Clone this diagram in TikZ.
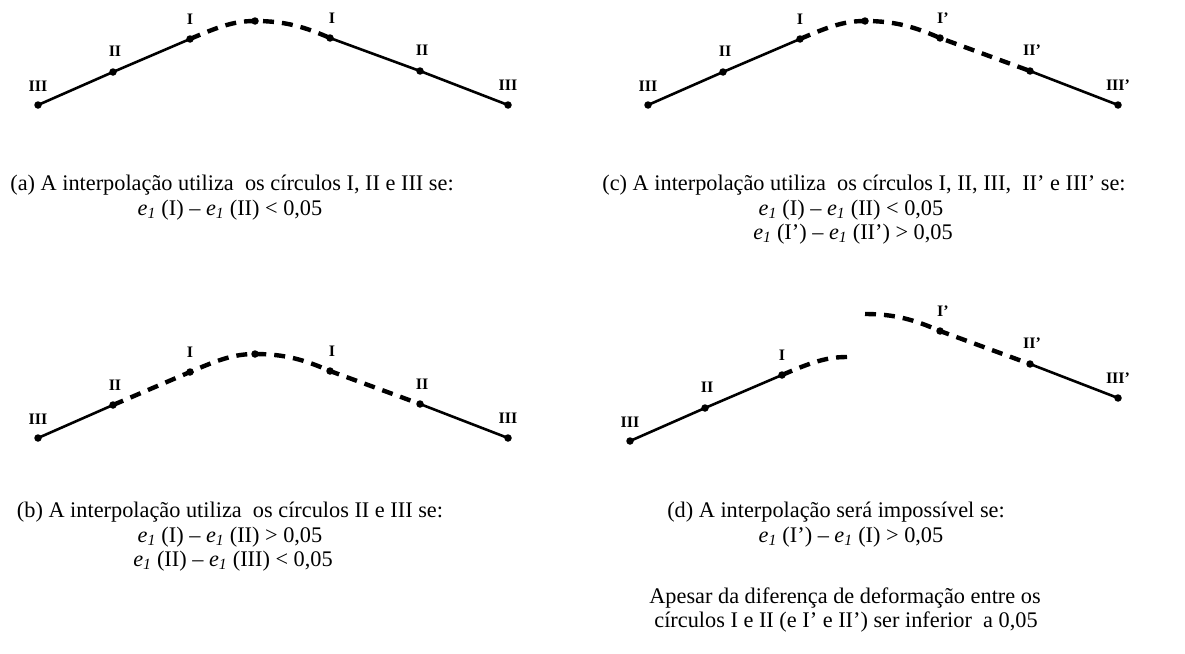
\documentclass[tikz,border=0pt]{standalone}
\usepackage{fontspec}
\setmainfont{Liberation Serif}
\newcommand{\eone}{\textit{e}\textsubscript{\textit{1}}}
\tikzset{
  dot/.style={circle, fill=black, inner sep=0pt, minimum size=7.5pt},
  solidseg/.style={line width=2.6pt},
  dashseg/.style={line width=4.4pt, dash pattern=on 11pt off 8pt},
  lab/.style={font=\fontsize{16}{16}\selectfont\bfseries, inner sep=0pt},
  captxt/.style={font=\fontsize{22.3}{24}\selectfont, inner sep=0pt}
}
\begin{document}
\begin{tikzpicture}[x=1pt,y=-1pt]
\useasboundingbox (0,0) rectangle (1185,653);
% ---------- (a) ----------
\node[dot] (a1) at (38,105) {};
\node[dot] (a2) at (113,72) {};
\node[dot] (a3) at (190,39) {};
\node[dot] (a4) at (255,21) {};
\node[dot] (a5) at (330,38) {};
\node[dot] (a6) at (420,71) {};
\node[dot] (a7) at (508,105) {};
\node[lab] (la1) at (38,86) {III};
\node[lab] (la2) at (115,51) {II};
\node[lab] (la3) at (190,19) {I};
\node[lab] (la5) at (332,18) {I};
\node[lab] (la6) at (422,50) {II};
\node[lab] (la7) at (508,85) {III};
\draw[solidseg] (a1.center) -- (a2.center) -- (a3.center);
\draw[dashseg] (a3.center) .. controls (220,26) and (235,21) .. (a4.center) .. controls (285,21) and (305,27) .. (a5.center);
\draw[solidseg] (a5.center) -- (a6.center) -- (a7.center);
% ---------- (b) ----------
\node[dot] (b1) at (38,438) {};
\node[dot] (b2) at (113,405) {};
\node[dot] (b3) at (190,372) {};
\node[dot] (b4) at (255,354) {};
\node[dot] (b5) at (330,371) {};
\node[dot] (b6) at (420,404) {};
\node[dot] (b7) at (508,438) {};
\node[lab] (lb1) at (38,419) {III};
\node[lab] (lb2) at (115,385) {II};
\node[lab] (lb3) at (190,352) {I};
\node[lab] (lb5) at (332,351) {I};
\node[lab] (lb6) at (422,384) {II};
\node[lab] (lb7) at (508,418) {III};
\draw[solidseg] (b1.center) -- (b2.center);
\draw[dashseg] (b2.center) -- (b3.center) .. controls (220,359) and (235,354) .. (b4.center) .. controls (285,354) and (305,360) .. (b5.center) -- (b6.center);
\draw[solidseg] (b6.center) -- (b7.center);
% ---------- (c) ----------
\node[dot] (c1) at (648,105) {};
\node[dot] (c2) at (723,72) {};
\node[dot] (c3) at (800,39) {};
\node[dot] (c4) at (865,21) {};
\node[dot] (c5) at (940,38) {};
\node[dot] (c6) at (1030,71) {};
\node[dot] (c7) at (1118,105) {};
\node[lab] (lc1) at (648,86) {III};
\node[lab] (lc2) at (725,51) {II};
\node[lab] (lc3) at (800,19) {I};
\node[lab] (lc5) at (943,18) {I’};
\node[lab] (lc6) at (1032,50) {II’};
\node[lab] (lc7) at (1118,85) {III’};
\draw[solidseg] (c1.center) -- (c2.center) -- (c3.center);
\draw[dashseg] (c3.center) .. controls (830,26) and (845,21) .. (c4.center) .. controls (895,21) and (915,27) .. (c5.center) -- (c6.center);
\draw[solidseg] (c6.center) -- (c7.center);
% ---------- (d) ----------
\node[dot] (d1) at (630,441) {};
\node[dot] (d2) at (705,408) {};
\node[dot] (d3) at (782,375) {};
\coordinate (d4) at (847,357);
\coordinate (e4) at (865,314);
\node[dot] (d5) at (940,331) {};
\node[dot] (d6) at (1030,364) {};
\node[dot] (d7) at (1118,398) {};
\node[lab] (ld1) at (630,422) {III};
\node[lab] (ld2) at (707,387) {II};
\node[lab] (ld3) at (782,355) {I};
\node[lab] (ld5) at (943,311) {I’};
\node[lab] (ld6) at (1032,343) {II’};
\node[lab] (ld7) at (1118,378) {III’};
\draw[solidseg] (d1.center) -- (d2.center) -- (d3.center);
\draw[dashseg] (d3.center) .. controls (812,362) and (827,357) .. (d4);
\draw[dashseg] (e4) .. controls (895,314) and (915,320) .. (d5.center) -- (d6.center);
\draw[solidseg] (d6.center) -- (d7.center);
% ---------- captions ----------
\node[captxt] (ta1) at (232,185) {(a) A interpolação utiliza~ os círculos I, II e III se:};
\node[captxt] (ta2) at (230,210) {\eone{} (I) – \eone{} (II) < 0,05};
\node[captxt] (tc1) at (864,185) {(c) A interpolação utiliza~ os círculos I, II, III,~ II’ e III’ se:};
\node[captxt] (tc2) at (851,210) {\eone{} (I) – \eone{} (II) < 0,05};
\node[captxt] (tc3) at (853,234) {\eone{} (I’) – \eone{} (II’) > 0,05};
\node[captxt] (tb1) at (230,512) {(b) A interpolação utiliza~ os círculos II e III se:};
\node[captxt] (tb2) at (230,537) {\eone{} (I) – \eone{} (II) > 0,05};
\node[captxt] (tb3) at (233,561) {\eone{} (II) – \eone{} (III) < 0,05};
\node[captxt] (td1) at (836,512) {(d) A interpolação será impossível se:};
\node[captxt] (td2) at (851,537) {\eone{} (I’) – \eone{} (I) > 0,05};
\node[captxt] (td3) at (845,598) {Apesar da diferença de deformação entre os};
\node[captxt] (td4) at (846,622) {círculos I e II (e I’ e II’) ser inferior~ a 0,05};
\end{tikzpicture}
\end{document}
